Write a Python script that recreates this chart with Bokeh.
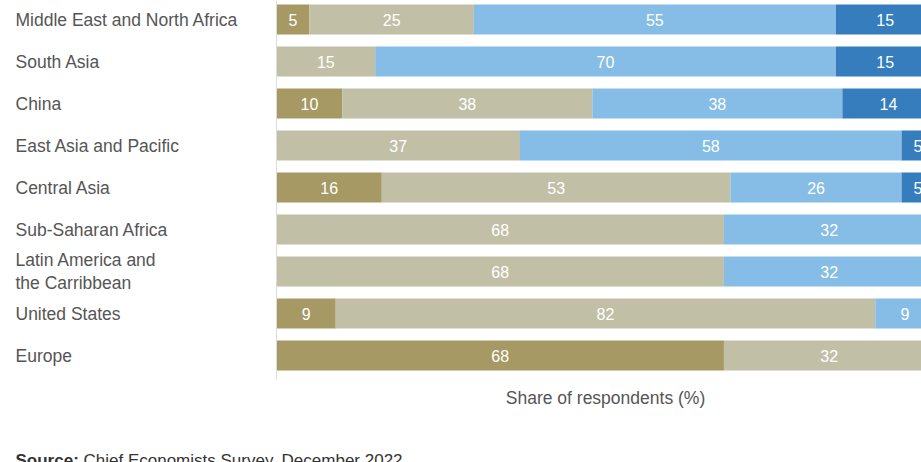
from bokeh.plotting import figure
from bokeh.models import ColumnDataSource, Range1d
from bokeh.core.properties import value
from bokeh.embed import file_html
from bokeh.resources import INLINE

categories = [
    "Middle East and North Africa",
    "South Asia",
    "China",
    "East Asia and Pacific",
    "Central Asia",
    "Sub-Saharan Africa",
    "Latin America and\nthe Carribbean",
    "United States",
    "Europe",
]
series_names = ["s1", "s2", "s3", "s4"]
s1 = [5, 0, 10, 0, 16, 0, 0, 9, 68]
s2 = [25, 15, 38, 37, 53, 68, 68, 82, 32]
s3 = [55, 70, 38, 58, 26, 32, 32, 9, 0]
s4 = [15, 15, 14, 5, 5, 0, 0, 0, 0]
colors = ["#a69963", "#c2bfa7", "#86bde6", "#357dbd"]
axis_title = "Share of respondents (%)"
source_bold = "Source:"
source_rest = "Chief Economists Survey, December 2022"

FONT = value("Liberation Sans")
W, H = 921, 462
X0 = 276          # pixel where 0% sits
PPU = 6.58        # pixels per percent
ROW = 42          # pixels per row
TOP = 19          # pixel center of first row
n = len(categories)

def xd(px):
    return (px - X0) / PPU

def yd(py):
    return (n - 1) - (py - TOP) / ROW

p = figure(width=W, height=H, output_backend="svg", toolbar_location=None,
           x_range=Range1d(xd(0), xd(W)), y_range=Range1d(yd(H), yd(0)),
           min_border=0, min_border_left=0, min_border_right=0,
           min_border_top=0, min_border_bottom=0)
p.axis.visible = False
p.grid.visible = False
p.outline_line_color = None
p.background_fill_color = "white"
p.border_fill_color = "white"

ypos = [n - 1 - i for i in range(n)]
series = [s1, s2, s3, s4]
left = [0] * n
for vals, col in zip(series, colors):
    right = [l + v for l, v in zip(left, vals)]
    src = ColumnDataSource(dict(y=ypos, left=left, right=right))
    p.hbar(y="y", left="left", right="right", height=30 / ROW, source=src,
           fill_color=col, line_color=None)
    lx, ly, lt = [], [], []
    for l, v, y in zip(left, vals, ypos):
        if v > 0:
            lx.append(l + v / 2)
            ly.append(y)
            lt.append(str(v))
    p.text(x=lx, y=ly, text=lt, text_color="white", text_font=FONT,
           text_font_size="16px", text_align="center", text_baseline="middle")
    left = right

# vertical axis line
p.segment(x0=[0], y0=[yd(0)], x1=[0], y1=[yd(379)], line_color="#dcdcdc", line_width=1)

# category labels
p.text(x=[xd(15)] * n, y=ypos, text=categories, text_color="#555555", text_font=FONT,
       text_font_size="17.5px", text_align="left", text_baseline="middle",
       text_line_height=1.12)

# axis title
p.text(x=[50], y=[yd(397)], text=[axis_title], text_color="#555555", text_font=FONT,
       text_font_size="17.5px", text_align="center", text_baseline="middle")

# source
p.text(x=[xd(15)], y=[yd(450)], text=[source_bold], text_color="#333333", text_font=FONT,
       text_font_size="17px", text_font_style="bold", text_align="left", text_baseline="top")
p.text(x=[xd(83)], y=[yd(450)], text=[source_rest], text_color="#333333", text_font=FONT,
       text_font_size="17px", text_align="left", text_baseline="top")

open("out.html", "w").write(file_html(p, INLINE))
